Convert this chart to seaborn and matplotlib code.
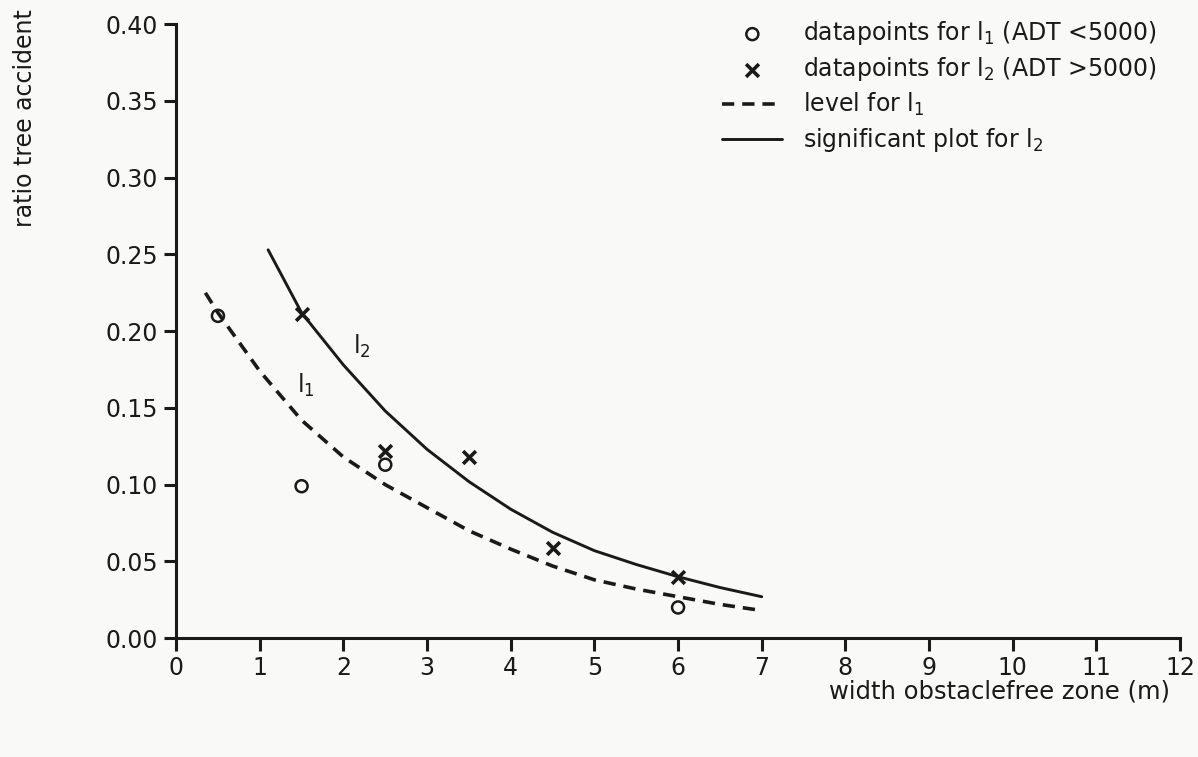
import matplotlib
matplotlib.use("Agg")
import matplotlib.pyplot as plt
import seaborn as sns
import pandas as pd

# data points
x_l1 = [0.5, 1.5, 2.5, 6.0]
y_l1 = [0.210, 0.099, 0.113, 0.020]
x_l2 = [1.5, 2.5, 3.5, 4.5, 6.0]
y_l2 = [0.211, 0.122, 0.118, 0.059, 0.040]

# curves
curve1_x = [0.35, 0.5, 1.0, 1.5, 2.0, 2.5, 3.0, 3.5, 4.0, 4.5, 5.0, 5.5, 6.0, 6.5, 7.0]
curve1_y = [0.225, 0.212, 0.174, 0.142, 0.118, 0.100, 0.085, 0.070, 0.058, 0.047, 0.038, 0.032, 0.027, 0.022, 0.018]
curve2_x = [1.1, 1.5, 2.0, 2.5, 3.0, 3.5, 4.0, 4.5, 5.0, 5.5, 6.0, 6.5, 7.0]
curve2_y = [0.253, 0.212, 0.178, 0.148, 0.123, 0.102, 0.084, 0.069, 0.057, 0.048, 0.040, 0.033, 0.027]

x_ticks = list(range(0, 13))
y_ticks = [0.00, 0.05, 0.10, 0.15, 0.20, 0.25, 0.30, 0.35, 0.40]

sns.set_style("ticks")
plt.rcParams['font.family'] = ['DejaVu Sans']
plt.rcParams['mathtext.fontset'] = 'dejavusans'

ink = '#1a1a1a'
bg = '#f9f9f7'
fig = plt.figure(figsize=(11.98, 7.57), dpi=100, facecolor=bg)
ax = fig.add_axes([0.147, 0.157, 0.838, 0.811])
ax.set_facecolor(bg)

d1 = pd.DataFrame({'x': curve1_x, 'y': curve1_y})
d2 = pd.DataFrame({'x': curve2_x, 'y': curve2_y})
p1 = pd.DataFrame({'x': x_l1, 'y': y_l1})
p2 = pd.DataFrame({'x': x_l2, 'y': y_l2})

sns.scatterplot(data=p1, x='x', y='y', ax=ax, marker='o', s=75, facecolor='none',
                edgecolor=ink, linewidth=1.8, label='datapoints for l$_1$ (ADT <5000)', zorder=3)
sns.scatterplot(data=p2, x='x', y='y', ax=ax, marker='x', s=85, color=ink,
                linewidth=2.6, label='datapoints for l$_2$ (ADT >5000)', zorder=3)
sns.lineplot(data=d1, x='x', y='y', ax=ax, color=ink, linewidth=2.6,
             dashes=False, linestyle=(0, (3.4, 2.2)), label='level for l$_1$', estimator=None)
sns.lineplot(data=d2, x='x', y='y', ax=ax, color=ink, linewidth=2.1,
             label='significant plot for l$_2$', estimator=None)

ax.text(2.22, 0.19, 'l$_2$', fontsize=17, ha='center', va='center', color=ink)
ax.text(1.55, 0.165, 'l$_1$', fontsize=17, ha='center', va='center', color=ink)

ax.set_xlim(0, 12)
ax.set_ylim(0, 0.40)
ax.set_xticks(x_ticks)
ax.set_yticks(y_ticks)
ax.set_xticklabels([str(t) for t in x_ticks])
ax.set_yticklabels([f'{t:.2f}' for t in y_ticks])
ax.tick_params(axis='both', labelsize=17, width=2.2, length=9, color=ink, labelcolor=ink, pad=4)
sns.despine(ax=ax)
for s in ['left', 'bottom']:
    ax.spines[s].set_linewidth(2.2)
    ax.spines[s].set_color(ink)

ax.set_xlabel('')
ax.set_ylabel('')
fig.text(0.977, 0.086, 'width obstaclefree zone (m)', fontsize=17.5, ha='right', va='center', color=ink)
fig.text(0.021, 0.988, 'ratio tree accident', fontsize=17, ha='center', va='top', rotation=90, color=ink)

leg = ax.legend(loc='upper left', bbox_to_anchor=(0.544, 1.008), frameon=False, fontsize=17,
                handlelength=2.55, handletextpad=0.85, labelspacing=0.33, borderaxespad=0, borderpad=0)
for t in leg.get_texts():
    t.set_color(ink)

fig.savefig('out.png', dpi=100, facecolor=bg)
